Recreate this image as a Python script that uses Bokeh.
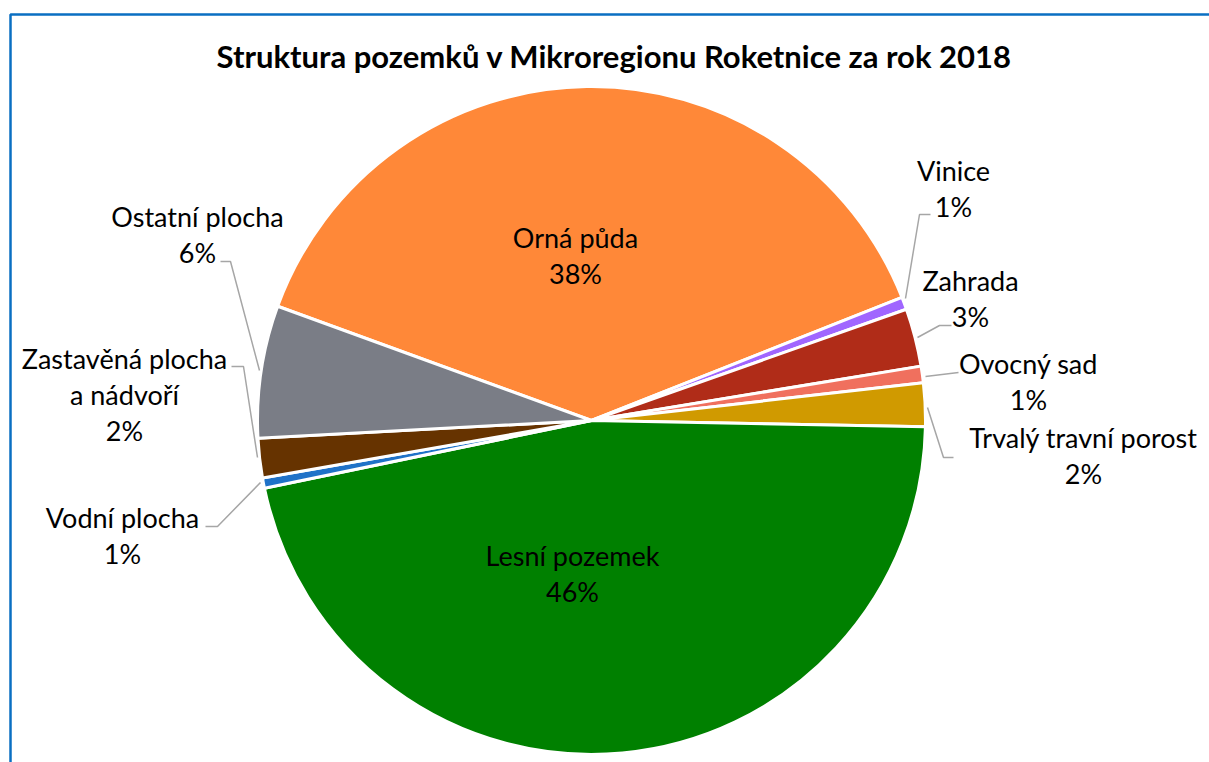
import math
from bokeh.plotting import figure
from bokeh.models import Range1d, ColumnDataSource
from bokeh.core.properties import value
from bokeh.embed import file_html
from bokeh.resources import INLINE

# ---- data ----
categories = ["Orná půda", "Vinice", "Zahrada", "Ovocný sad", "Trvalý travní porost",
              "Lesní pozemek", "Vodní plocha", "Zastavěná plocha\na nádvoří", "Ostatní plocha"]
shares = [38.4, 0.6, 2.8, 0.8, 2.1, 46.4, 0.5, 1.9, 6.4]
colors = ["#FF8838", "#A066FF", "#B02C18", "#F0705E", "#D09A00",
          "#008000", "#1F72C8", "#663300", "#7A7D86"]
title = "Struktura pozemků v Mikroregionu Roketnice za rok 2018"

# ---- layout (pixel coordinates, y measured from top) ----
W, H = 1209, 762
CX, CY, R = 591, 420, 334
START_DEG = 160.0
label_pos = [(575, 255), (953, 188), (970, 298), (1028, 381), (1083, 455),
             (572, 573), (122, 535), (124, 394), (197, 234)]
leaders = [None,
           [(930, 214), (919, 214), (905, 298)],
           [(951, 325), (939, 325), (917, 337)],
           [(958, 372), (925, 376)],
           [(953, 457), (943, 457), (927, 407)],
           None,
           [(205, 526), (217, 526), (260, 482)],
           [(231, 366), (243, 366), (257, 457)],
           [(220, 261), (230, 261), (259, 370)]]


def Y(py):
    return H - py


total = sum(shares)
starts, ends = [], []
acc = 0.0
for s in shares:
    a0 = math.radians(START_DEG - acc / total * 360.0)
    acc += s
    a1 = math.radians(START_DEG - acc / total * 360.0)
    starts.append(a0)
    ends.append(a1)

labels = [f"{c}\n{int(s / total * 100 + 0.5)}%" for c, s in zip(categories, shares)]

p = figure(width=W, height=H, x_range=Range1d(0, W), y_range=Range1d(0, H),
           x_axis_type=None, y_axis_type=None, toolbar_location=None,
           output_backend="svg", min_border=0)
p.grid.visible = False
p.outline_line_color = None
p.background_fill_color = "white"
p.border_fill_color = "white"

# chart border
p.line(x=[10, 10, W + 5], y=[Y(H + 5), Y(14), Y(14)], line_color="#0A6FC2", line_width=2.5)

src = ColumnDataSource(dict(start=starts, end=ends, color=colors))
p.wedge(x=CX, y=Y(CY), radius=R, start_angle="start", end_angle="end",
        direction="clock", fill_color="color", line_color="white", line_width=3,
        source=src)

xs, ys = [], []
for ld in leaders:
    if ld:
        xs.append([pt[0] for pt in ld])
        ys.append([Y(pt[1]) for pt in ld])
p.multi_line(xs=xs, ys=ys, line_color="#A6A6A6", line_width=1.5)

p.text(x=[lp[0] for lp in label_pos], y=[Y(lp[1]) for lp in label_pos], text=labels,
       text_align="center", text_baseline="middle", text_font=value("Lato"),
       text_font_size="27px", text_line_height=1.1, text_color="#000000")

p.text(x=[614], y=[Y(55)], text=[title], text_align="center", text_baseline="middle",
       text_font=value("Lato"), text_font_size="31px", text_font_style="bold",
       text_color="#000000")

open("out.html", "w").write(file_html(p, INLINE))
